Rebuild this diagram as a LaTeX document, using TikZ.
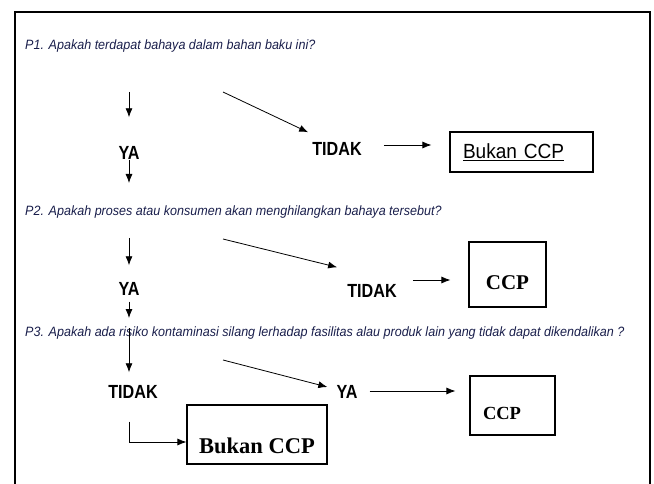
\documentclass[tikz,border=0pt]{standalone}
\usepackage{fontspec}
\setmainfont{Liberation Serif}
\newfontfamily\qfont[FakeStretch=0.93]{Liberation Sans}
\newfontfamily\jfont[FakeStretch=0.85]{Liberation Sans}
\usetikzlibrary{arrows.meta}
\definecolor{biru}{RGB}{25,30,75}
\begin{document}
\begin{tikzpicture}[x=1pt, y=-1pt, >={Latex[length=9pt,width=7pt]},
        soal/.style={anchor=west, inner sep=0pt, text=biru, font=\qfont\itshape\fontsize{13.5}{16}\selectfont},
        jawab/.style={inner sep=0pt, font=\jfont\bfseries\fontsize{19}{22}\selectfont},
        kotak/.style={draw, line width=1.1pt, inner sep=0pt},
        panah/.style={->, line width=0.8pt}]
        \useasboundingbox (0,0) rectangle (654,484);
        \draw[line width=1.1pt] (15,484) -- (15,12) -- (650,12) -- (650,484);
        \node[soal] (q1) at (25,46) {P1. Apakah terdapat bahaya dalam bahan baku ini?};
        \node[jawab] (ya1) at (129,153) {YA};
        \node[jawab] (tidak1) at (337,149) {TIDAK};
        \node[kotak, minimum width=143pt, minimum height=40pt, text width=117pt, inner xsep=13pt, align=left, font=\qfont\fontsize{20.5}{24}\selectfont] (bukan1) at (521.5,152) {\underline{Bukan CCP}};
        \node[soal] (q2) at (25,212) {P2. Apakah proses atau konsumen akan menghilangkan bahaya tersebut?};
        \node[jawab] (ya2) at (129,289) {YA};
        \node[jawab] (tidak2) at (372,291) {TIDAK};
        \node[kotak, minimum width=77pt, minimum height=65pt, text height=29pt, text depth=0pt, font=\bfseries\fontsize{21}{24}\selectfont] (ccp2) at (507.5,274.5) {CCP};
        \node[soal] (q3) at (25,333) {P3. Apakah ada risiko kontaminasi silang lerhadap fasilitas alau produk lain yang tidak dapat dikendalikan ?};
        \node[jawab] (tidak3) at (133,392) {TIDAK};
        \node[jawab] (ya3) at (347,392) {YA};
        \node[kotak, minimum width=85pt, minimum height=59pt, text width=59pt, inner xsep=13pt, align=left, text height=27pt, text depth=0pt, font=\bfseries\fontsize{18.5}{20}\selectfont] (ccp3) at (512.5,405.5) {CCP};
        \node[kotak, minimum width=140pt, minimum height=59pt, text height=37pt, text depth=0pt, font=\bfseries\fontsize{22.5}{26}\selectfont] (bukan3) at (257,434.5) {Bukan CCP};
        \coordinate (a1) at (129,92);
        \coordinate (d1) at (223,92);
        \coordinate (a2) at (129,238);
        \coordinate (d2) at (223,239);
        \coordinate (a3) at (129,328);
        \coordinate (d3) at (223,360);
        \draw[panah, shorten >=29pt] (a1) -- (ya1);
        \draw[panah] (d1) -- ([shift={(-4pt,10pt)}]tidak1.north west);
        \draw[panah] (ya1) -- ++(0,30);
        \draw[panah, shorten <=22pt, shorten >=18pt] ([yshift=4pt]tidak1.east) -- ([yshift=7pt]bukan1.west);
        \draw[panah, shorten >=17pt] (a2) -- (ya2);
        \draw[panah] (d2) -- ([shift={(-10pt,17pt)}]tidak2.north west);
        \draw[panah, shorten <=6pt] (ya2) -- ++(0,29);
        \draw[panah, shorten <=16pt, shorten >=18pt] ([yshift=11pt]tidak2.east) -- ([yshift=-5.5pt]ccp2.west);
        \draw[panah, shorten >=13pt] (a3) -- (a3 |- tidak3.north);
        \draw[panah] (d3) -- ([shift={(-9pt,5pt)}]ya3.west);
        \draw[panah, shorten <=12pt, shorten >=14pt] ([yshift=1pt]ya3.east) -- ([yshift=14.5pt]ccp3.west);
        \draw[panah] ([xshift=-4pt, yshift=-23pt]tidak3.south) |- ([yshift=-7.5pt]bukan3.west);
\end{tikzpicture}
\end{document}
